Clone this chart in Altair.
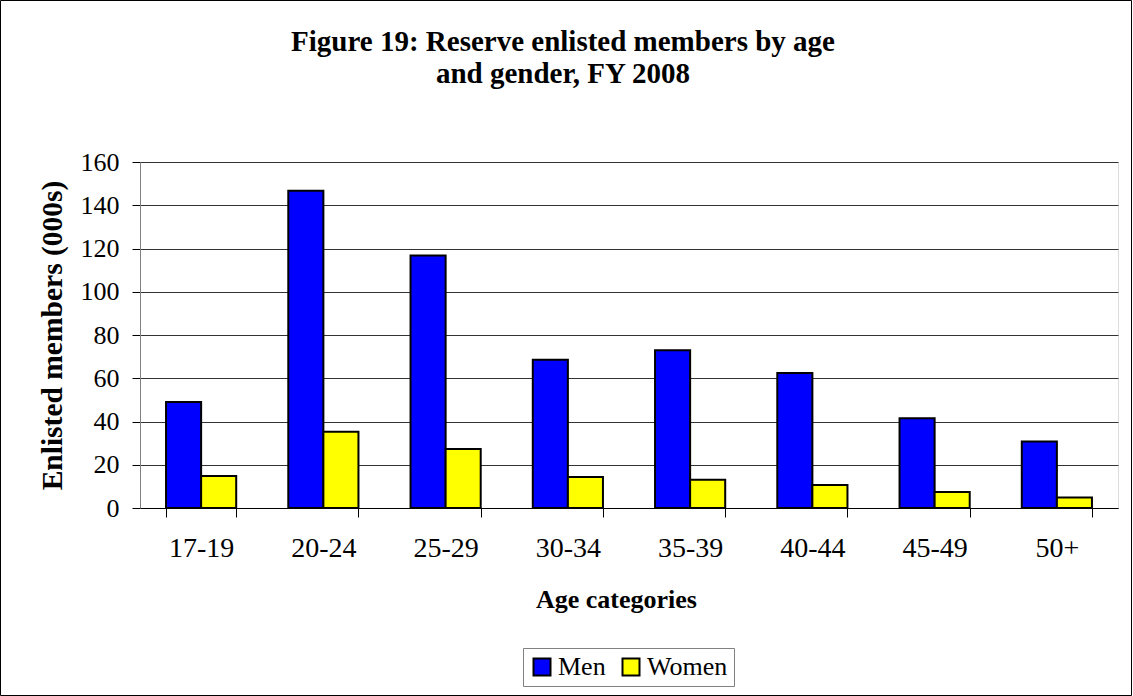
import altair as alt
import pandas as pd

ages = ["17-19", "20-24", "25-29", "30-34", "35-39", "40-44", "45-49", "50+"]
men = [49.0, 146.7, 116.8, 68.6, 72.9, 62.4, 41.5, 30.8]
women = [14.8, 35.3, 27.3, 14.3, 13.1, 10.6, 7.4, 4.8]
genders = ["Men", "Women"]
colors = ["#0000FF", "#FFFF00"]

rows = []
for a, m, w in zip(ages, men, women):
    rows.append({"age": a, "gender": "Men", "value": m})
    rows.append({"age": a, "gender": "Women", "value": w})
df = pd.DataFrame(rows)

FONT = "Liberation Serif"

bars = alt.Chart(df).mark_bar(stroke="black", strokeWidth=2).encode(
    x=alt.X("age:N", sort=ages,
            scale=alt.Scale(paddingInner=0.426, paddingOuter=0.213),
            axis=alt.Axis(title="Age categories", labelAngle=0, tickBand="extent",
                          labelFontSize=28, labelFont=FONT, labelColor="black",
                          labelPadding=17, tickSize=9, tickColor="black",
                          domainColor="black", titleFontSize=26, titleFont=FONT,
                          titleFontWeight="bold", titleColor="black", titlePadding=24,
                          titleX=476, grid=False)),
    xOffset=alt.XOffset("gender:N", sort=genders,
                        scale=alt.Scale(paddingInner=0, paddingOuter=0)),
    y=alt.Y("value:Q", scale=alt.Scale(domain=[0, 160]),
            axis=alt.Axis(title="Enlisted members (000s)", values=list(range(0, 161, 20)),
                          labelFontSize=26, labelFont=FONT, labelColor="black",
                          labelPadding=13, tickSize=8, tickColor="black",
                          domainColor="#808080", gridColor="#333333", gridWidth=1,
                          titleFontSize=29.5, titleFont=FONT, titleFontWeight="bold",
                          titleColor="black", titlePadding=13)),
    color=alt.Color("gender:N", sort=genders,
                    scale=alt.Scale(domain=genders, range=colors),
                    legend=alt.Legend(title=None, orient="none", direction="horizontal",
                                      legendX=383, legendY=486,
                                      strokeColor="#808080", padding=6,
                                      labelFontSize=26, labelFont=FONT, labelColor="black",
                                      symbolType="square", symbolSize=289,
                                      symbolStrokeColor="black", symbolStrokeWidth=2,
                                      symbolOpacity=1, columnPadding=12, labelOffset=3)),
)

frame = alt.Chart(pd.DataFrame({"f": [0]})).mark_rect(
    fill=None, stroke="black", strokeWidth=1
).encode(x=alt.value(-139.5), x2=alt.value(991.5), y=alt.value(-161.5), y2=alt.value(533.5))

chart = alt.layer(bars, frame).properties(
    width=978, height=346,
    autosize=alt.AutoSizeParams(type="none"),
    padding={"left": 140, "top": 162, "right": 15, "bottom": 188},
    title=alt.TitleParams(
        text=["Figure 19: Reserve enlisted members by age", "and gender, FY 2008"],
        font=FONT, fontSize=29, fontWeight="bold", color="black",
        lineHeight=32, anchor="middle", dx=-66, offset=-89,
    ),
).configure_view(stroke=None).configure(background="white")

chart.save("out.html", embed_options={"renderer": "svg", "actions": False})
